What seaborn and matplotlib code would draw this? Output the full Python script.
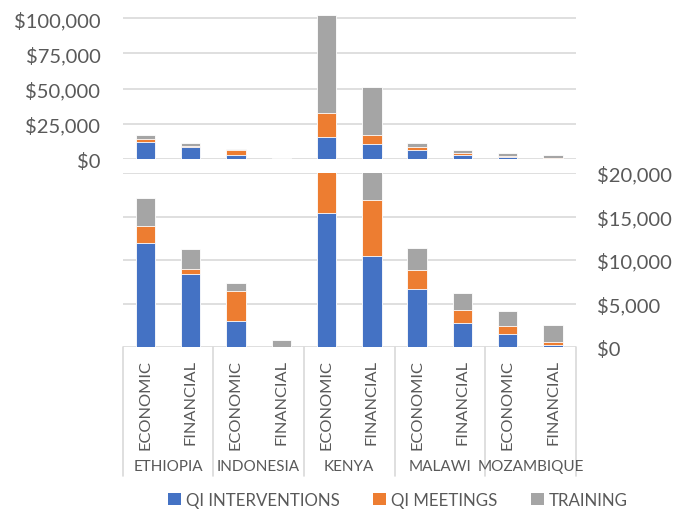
import matplotlib
matplotlib.use("Agg")
import matplotlib.pyplot as plt
import matplotlib.transforms as mtransforms
from matplotlib.patches import Patch
from matplotlib.ticker import FuncFormatter
import numpy as np
import pandas as pd
import seaborn as sns

countries = ["ETHIOPIA", "INDONESIA", "KENYA", "MALAWI", "MOZAMBIQUE"]
perspectives = ["ECONOMIC", "FINANCIAL"]
components = ["QI INTERVENTIONS", "QI MEETINGS", "TRAINING"]

# Cost per component, ordered country by country (economic, financial)
qi_interventions = [11950, 8360, 2950, 0, 15400, 10460, 6630, 2800, 1460, 230]
qi_meetings = [1920, 650, 3490, 50, 17500, 6400, 2220, 1450, 920, 340]
training = [3260, 2220, 960, 700, 69400, 34300, 2490, 1920, 1760, 1960]

colors = {"QI INTERVENTIONS": "#4472C4", "QI MEETINGS": "#ED7D31", "TRAINING": "#A5A5A5"}
text_color = "#595959"
grid_color = "#D9D9D9"

sns.set_theme(style="white")
plt.rcParams["font.family"] = ["Lato", "DejaVu Sans"]

bars = pd.DataFrame({
    "country": np.repeat(countries, len(perspectives)),
    "perspective": perspectives * len(countries),
    "QI INTERVENTIONS": qi_interventions,
    "QI MEETINGS": qi_meetings,
    "TRAINING": training,
})
bars["slot"] = bars["country"] + "|" + bars["perspective"]
slot_order = list(bars["slot"])

# Stack heights: each layer drawn as a cumulative total, largest first
stack = bars[components].cumsum(axis=1)

W, H = 687, 510
fig = plt.figure(figsize=(W / 100, H / 100), dpi=100)
left, right = 122.7 / W, 575.7 / W

ax_top = fig.add_axes([left, 1 - 160 / H, right - left, 155 / H])
ax_bot = fig.add_axes([left, 1 - 348 / H, right - left, 174 / H])

money = FuncFormatter(lambda v, p: f"${v:,.0f}")


def draw_stacks(ax):
    for comp in reversed(components):
        sns.barplot(
            x=bars["slot"], y=stack[comp], order=slot_order, ax=ax,
            color=colors[comp], width=0.43, saturation=1,
            edgecolor="white", linewidth=0.6, errorbar=None, zorder=3,
        )
    ax.set_xlim(-0.5, len(slot_order) - 0.5)
    ax.set_xlabel("")
    ax.set_ylabel("")
    ax.set_xticks([])
    for s in ax.spines.values():
        s.set_visible(False)
    ax.yaxis.grid(True, color=grid_color, linewidth=1.2, zorder=0)
    ax.yaxis.set_major_formatter(money)
    ax.tick_params(axis="y", length=0, labelsize=14.5, labelcolor=text_color)


draw_stacks(ax_top)
ax_top.set_ylim(0, 110000)
ax_top.set_yticks([0, 25000, 50000, 75000, 100000])
ax_top.tick_params(axis="y", pad=16)

draw_stacks(ax_bot)
ax_bot.set_ylim(0, 20000)
ax_bot.set_yticks([0, 5000, 10000, 15000, 20000])
ax_bot.yaxis.tick_right()
ax_bot.tick_params(axis="y", pad=15)

# Two-level category axis below the lower panel
trans = mtransforms.blended_transform_factory(ax_bot.transData, ax_bot.transAxes)
sep_bottom = -(477 - 348) / 174
for xb in np.arange(-0.5, len(slot_order), 2):
    ax_bot.plot([xb, xb], [0, sep_bottom], transform=trans, color=grid_color,
                linewidth=1.2, clip_on=False)
for i, row in bars.iterrows():
    ax_bot.text(i, -12 / 174, row["perspective"], transform=trans, rotation=90,
                ha="center", va="top", fontsize=11.8, color=text_color)
for j, c in enumerate(countries):
    ax_bot.text(2 * j + 0.5, -(467 - 348) / 174, c, transform=trans,
                ha="center", va="center", fontsize=11, color=text_color)

handles = [Patch(facecolor=colors[c], edgecolor="none", label=c) for c in components]
fig.legend(handles=handles, loc="center", bbox_to_anchor=(398 / W, 1 - 501 / H),
           ncol=3, frameon=False, fontsize=12.2, labelcolor=text_color,
           handlelength=0.75, handleheight=0.75, handletextpad=0.3,
           columnspacing=2.0)

fig.savefig("out.png", dpi=100, facecolor="white")
